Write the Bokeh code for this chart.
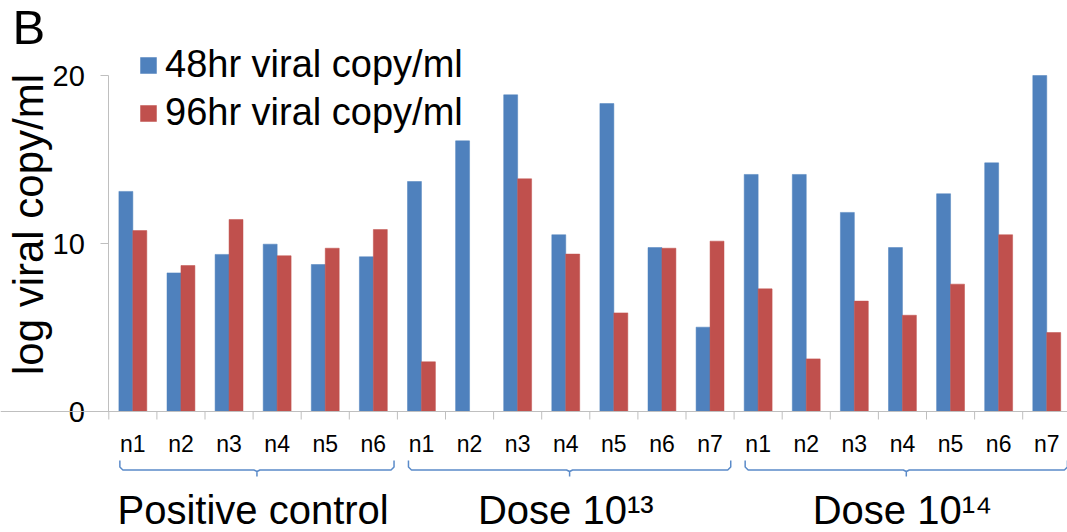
import numpy as np
from bokeh.plotting import figure
from bokeh.models import Range1d, FixedTicker, Span, Legend, LegendItem, ColumnDataSource
from bokeh.core.properties import value
from bokeh.embed import file_html
from bokeh.resources import INLINE

# ---- data ----
labels = ["n1", "n2", "n3", "n4", "n5", "n6",
          "n1", "n2", "n3", "n4", "n5", "n6", "n7",
          "n1", "n2", "n3", "n4", "n5", "n6", "n7"]
groups = ["Positive control", "Dose 10\u00b9\u00b3", "Dose 10\u00b9\u2074"]
group_sizes = [6, 7, 7]
hr48 = [13.1, 8.25, 9.35, 9.96, 8.75, 9.21,
        13.69, 16.11, 18.85, 10.52, 18.33, 9.76, 5.02,
        14.11, 14.11, 11.85, 9.76, 12.96, 14.80, 20.0]
hr96 = [10.77, 8.69, 11.43, 9.27, 9.72, 10.83,
        2.96, 0.0, 13.85, 9.37, 5.87, 9.72, 10.14,
        7.30, 3.13, 6.57, 5.73, 7.58, 10.52, 4.70]
series_names = ["48hr viral copy/ml", "96hr viral copy/ml"]
y_title = "log viral copy/ml"
y_ticks = [0, 10, 20]

# ---- layout constants (pixels) ----
W, H = 1067, 532
PX = 48.1          # px per category
PY = 16.8          # px per y unit
AX_X = 108.3       # canvas x of category boundary 0
Y0 = 411           # canvas y of value 0

x_start = -AX_X / PX
x_end = x_start + W / PX
y_end = Y0 / PY
y_start = y_end - H / PY

def py(canvas_y):
    return (Y0 - canvas_y) / PY

def pxx(canvas_x):
    return (canvas_x - AX_X) / PX

FONT = "Liberation Sans"
BLUE = "#4F81BD"
RED = "#C0504D"
AXIS_GRAY = "#BFBFBF"

p = figure(width=W, height=H, output_backend="svg", toolbar_location=None,
           x_range=Range1d(x_start, x_end), y_range=Range1d(y_start, y_end),
           x_axis_location=None, min_border=0)
p.min_border_left = 0
p.min_border_right = 0
p.min_border_top = 0
p.min_border_bottom = 0
p.outline_line_color = None
p.xgrid.visible = False
p.ygrid.visible = False
p.background_fill_color = "white"
p.border_fill_color = "white"

n = len(labels)
idx = np.arange(n)
centers = idx + 0.5
bw = 0.29
src = ColumnDataSource(dict(xb=centers - bw / 2, xr=centers + bw / 2,
                            b=hr48, r=hr96))
rb = p.vbar(x="xb", top="b", width=bw, bottom=0, source=src,
            fill_color=BLUE, line_color=BLUE, line_width=0.5)
rr = p.vbar(x="xr", top="r", width=bw, bottom=0, source=src,
            fill_color=RED, line_color=RED, line_width=0.5)

# y axis at category boundary 0
yax = p.yaxis[0]
yax.fixed_location = 0
yax.bounds = (0, 20)
yax.ticker = FixedTicker(ticks=y_ticks)
yax.minor_tick_line_color = None
yax.major_tick_in = 0
yax.major_tick_out = 8
yax.axis_line_color = AXIS_GRAY
yax.major_tick_line_color = AXIS_GRAY
yax.major_label_text_font = FONT
yax.major_label_text_font_size = "29px"
yax.major_label_text_color = "#000000"
yax.major_label_standoff = 16

# y axis title (rotated)
p.text(x=[pxx(28)], y=[py(224)], text=[y_title], angle=np.pi / 2,
       text_font=value(FONT), text_font_size="42px", text_align="center",
       text_baseline="middle", text_color="#000000")

# category axis line and boundary ticks
p.add_layout(Span(location=0, dimension="width", line_color=AXIS_GRAY, line_width=1))
bounds = np.arange(n + 1)
p.segment(x0=bounds, x1=bounds, y0=0, y1=-8 / PY, line_color=AXIS_GRAY, line_width=1)

# category labels
p.text(x=centers, y=py(443), text=labels, text_font=value(FONT),
       text_font_size="23px", text_align="center", text_baseline="middle",
       text_color="#000000")

# braces + group labels
edges = np.concatenate([[0], np.cumsum(group_sizes)])
dx = 3 / PX
ytop, yh, ytip, ycurl = py(460), py(469.5), py(476), py(466.5)
bx, by = [], []
for a, b in zip(edges[:-1], edges[1:]):
    x0, x1 = a + 0.23, b - 0.07
    xc = (x0 + x1) / 2
    bx.append([x0, x0, x0 + dx, xc - dx, xc, xc, xc, xc + dx, x1 - dx, x1, x1])
    by.append([ytop, ycurl, yh, yh, yh - 1.5 / PY, ytip, yh - 1.5 / PY, yh, yh, ycurl, ytop])
p.multi_line(xs=bx, ys=by, line_color="#5B8BC9", line_width=1.5)

gcent = (edges[:-1] + edges[1:]) / 2
p.text(x=gcent, y=py(509), text=groups, text_font=value(FONT),
       text_font_size="40px", text_align="center", text_baseline="middle",
       text_color="#000000")

# panel letter
p.text(x=[pxx(12)], y=[py(26)], text=["B"], text_font=value(FONT),
       text_font_size="49px", text_align="left", text_baseline="middle",
       text_color="#000000")

legend = Legend(items=[LegendItem(label=series_names[0], renderers=[rb]),
                       LegendItem(label=series_names[1], renderers=[rr])],
                location=(138, H - 134), padding=0, spacing=5,
                glyph_width=20, glyph_height=20, label_height=39,
                label_standoff=7, border_line_color=None,
                background_fill_alpha=0, label_text_font=FONT,
                label_text_font_size="38px", label_text_color="#000000")
p.add_layout(legend)

open("out.html", "w").write(file_html(p, INLINE))
